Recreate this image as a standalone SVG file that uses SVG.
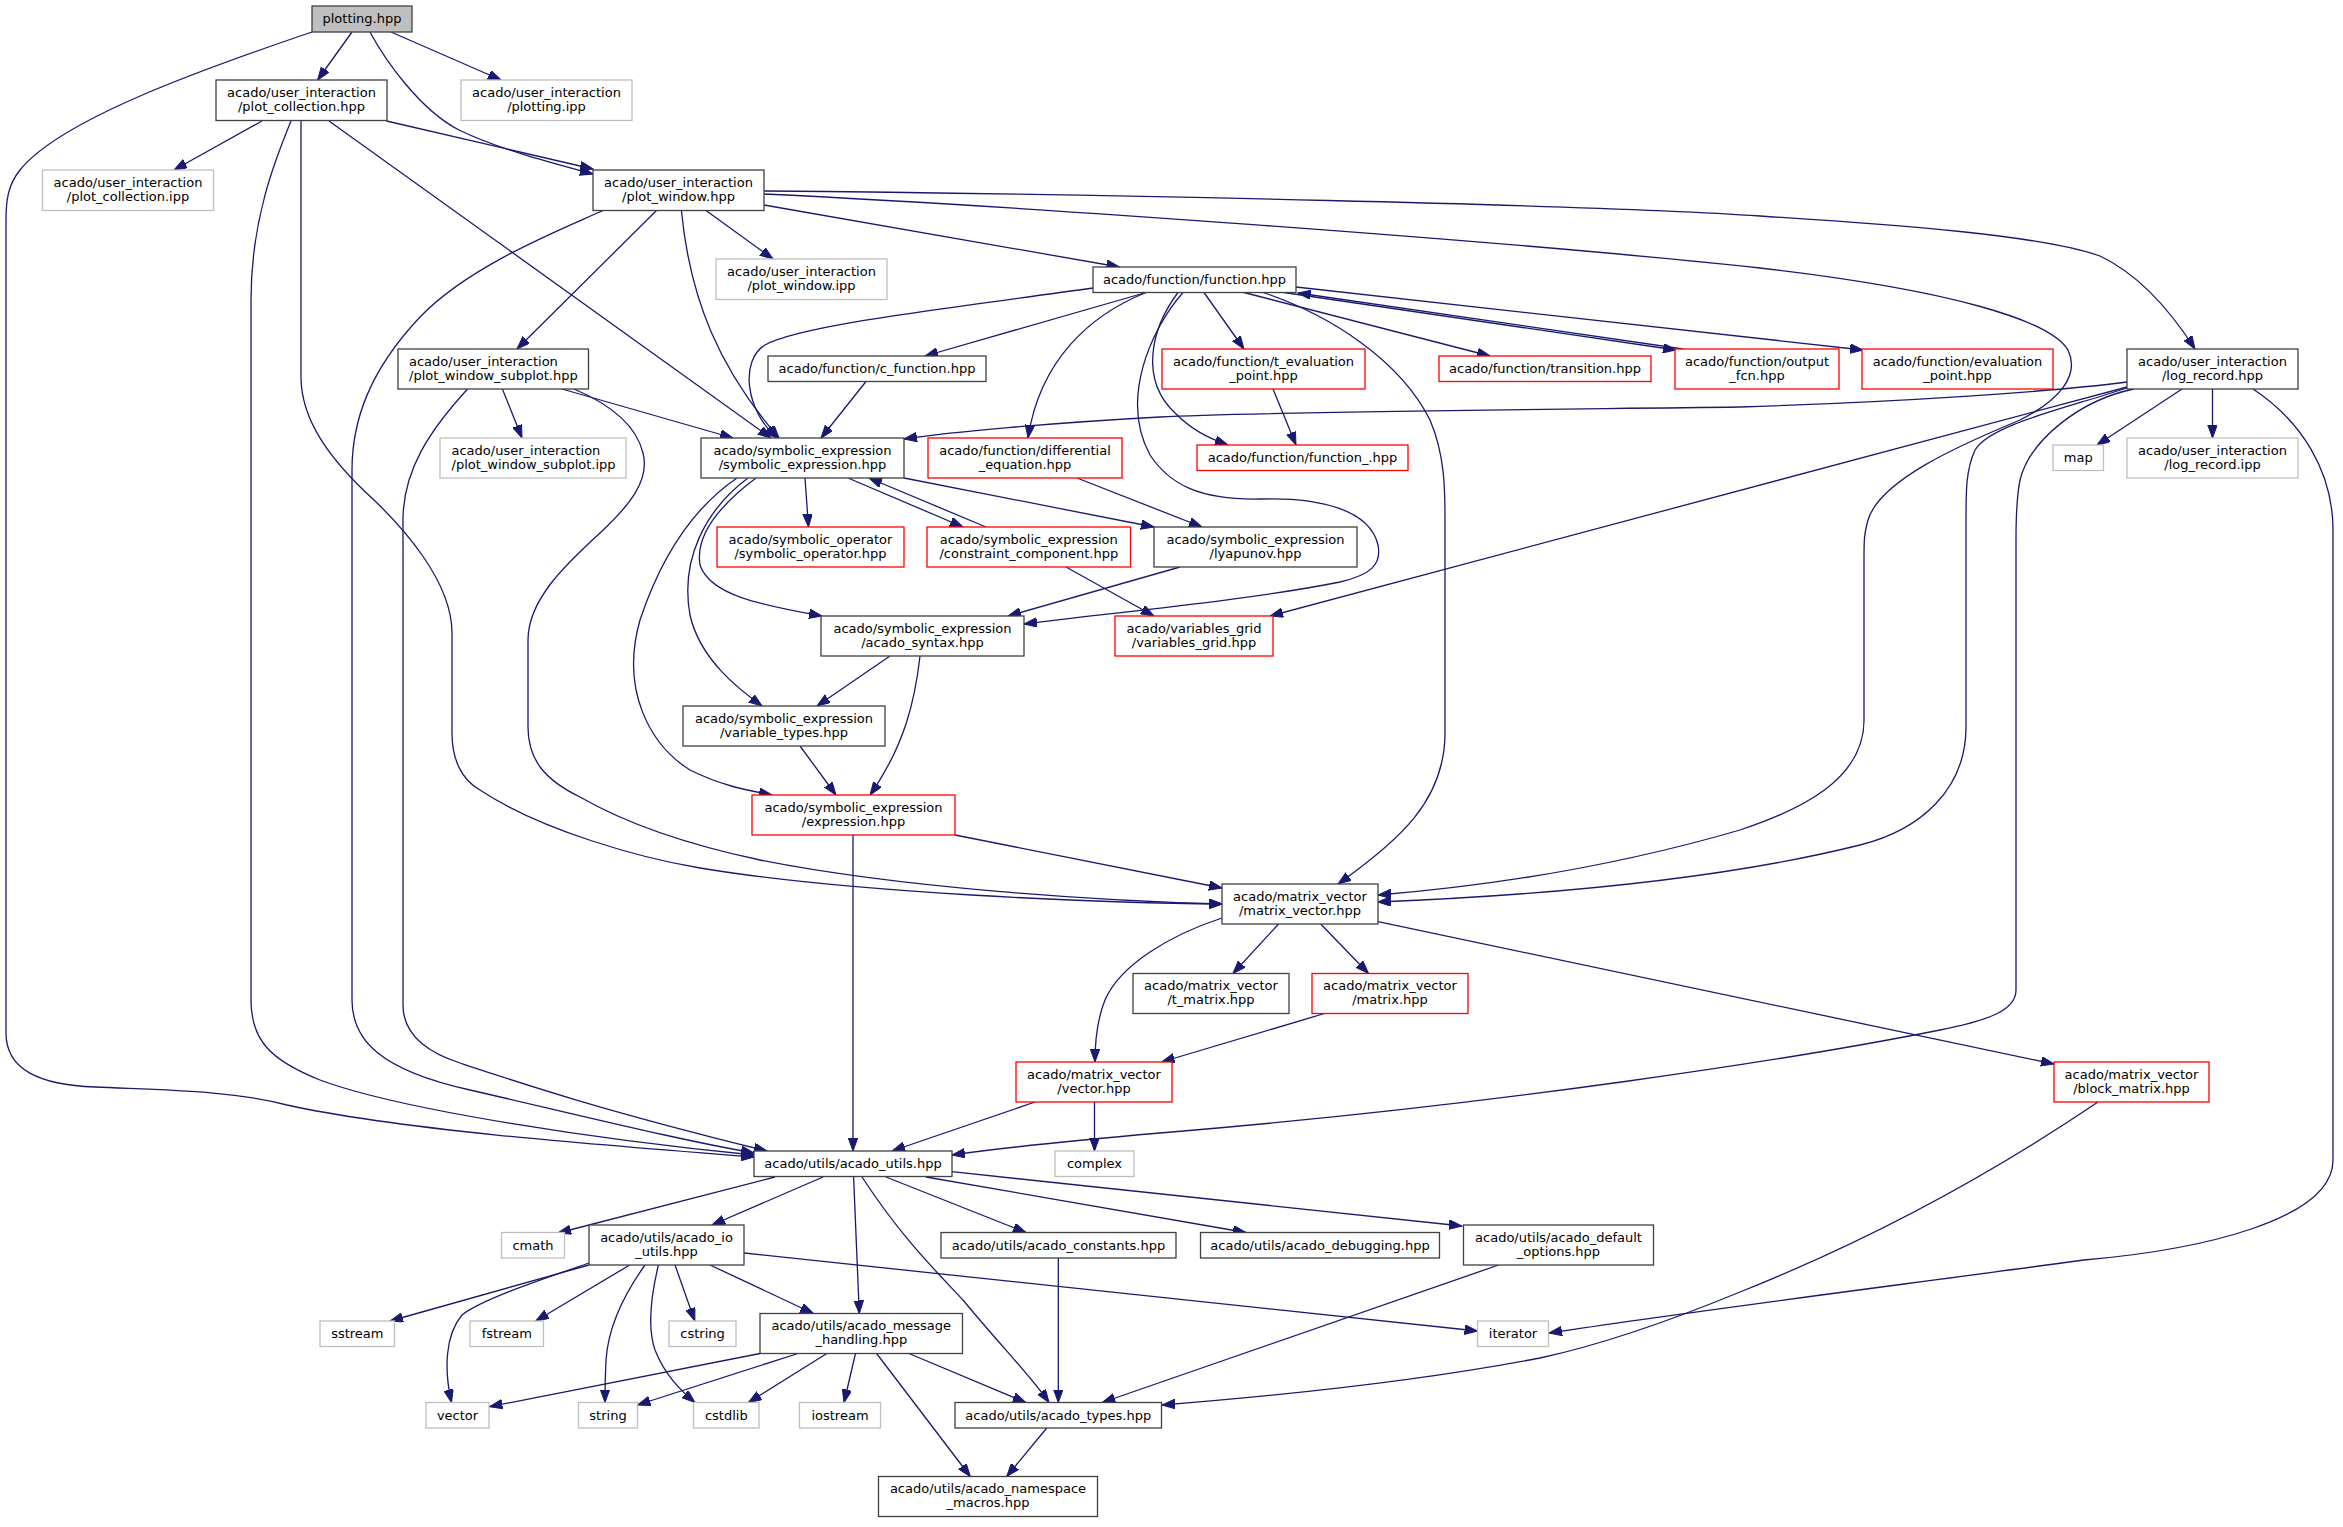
<svg xmlns="http://www.w3.org/2000/svg" width="2343" height="1527" viewBox="0 0 2343 1527">
<defs>
<style>
.n rect{fill:#fff;stroke:#404040;stroke-width:1.3}
.g rect{stroke:#bfbfbf}
.r rect{stroke:#ff0000}
.root rect{fill:#bfbfbf}
text{font-family:"DejaVu Sans",sans-serif;font-size:13px;fill:#000;text-anchor:middle}
.l text{text-anchor:start}
.e path{fill:none;stroke:#191970;stroke-width:1.3;marker-end:url(#a)}
</style>
<marker id="a" markerWidth="14" markerHeight="10" refX="13" refY="4.75" orient="auto" markerUnits="userSpaceOnUse"><path d="M0,0 L13,4.75 L0,9.5 z" fill="#191970" stroke="#191970" stroke-width="1"/></marker>
</defs>
<rect width="2343" height="1527" fill="#fff"/>
<g id="edges" class="e">
<path d="M352,32 L317.6,80"/>
<path d="M370,32 C385,60 420,110 459,130 C500,150 560,165 593,174"/>
<path d="M391,32 L501,80"/>
<path d="M312,32 C200,70 60,120 20,170 C8,185 6,200 6,220 L6,1033 C6,1070 40,1085 95,1087 C160,1090 230,1090 287,1105 C400,1130 600,1145 754,1157"/>
<path d="M262,121 L174,170"/>
<path d="M386.5,121 L593,169"/>
<path d="M329,121 L771,438"/>
<path d="M291,121 C275,160 251,220 251,300 L251,1000 C251,1040 270,1060 320,1080 C400,1110 600,1140 754,1155"/>
<path d="M301,121 L301,377 C301,420 330,460 374,500 C400,525 452,580 452,633 L452,733 C452,760 462,780 480,790 C540,830 640,858 700,868 C850,893 1100,903 1222,904"/>
<path d="M574,389 C600,400 635,420 643,453 C650,480 630,505 600,533 C565,565 528,600 528,640 L528,727 C528,760 545,780 580,797 C620,820 680,843 760,860 C900,888 1100,901 1222,904"/>
<path d="M562,389 L733,438"/>
<path d="M467.6,389 C430,430 403,470 403,520 L403,1005 C403,1030 420,1050 460,1063 C520,1083 600,1110 767,1151"/>
<path d="M502.4,389 L522,438"/>
<path d="M656.5,210.5 L517,349"/>
<path d="M681.4,210.5 C690,300 720,370 779,438"/>
<path d="M706,210.5 L773,259"/>
<path d="M764,205 L1119.5,267"/>
<path d="M603,210.5 C560,230 470,265 420,317 C370,370 352,420 352,470 L352,1000 C352,1040 380,1070 470,1090 C600,1120 680,1140 754,1153"/>
<path d="M764,191 C1100,194 1600,205 1760,216 C1900,225 2040,235 2100,256 C2140,275 2170,310 2195,349"/>
<path d="M764,194 C1000,205 1500,240 1760,268 C1950,290 2050,320 2068,350 C2080,375 2060,400 2020,420 C1960,445 1880,480 1868,520 C1864,535 1864,540 1864,560 L1864,720 C1864,780 1800,810 1740,830 C1620,865 1500,885 1378,895"/>
<path d="M1093,288 C950,308 800,325 765,345 C740,360 745,410 777,438"/>
<path d="M1146,292.5 L925,356"/>
<path d="M1146,292.5 C1090,315 1040,360 1028,438"/>
<path d="M1204,292.5 L1244,349"/>
<path d="M1178,292.5 C1150,330 1140,380 1175,413 C1190,428 1205,437 1228,445"/>
<path d="M1183,292.5 C1150,330 1120,400 1150,455 C1170,485 1200,500 1260,499 C1320,497 1370,510 1378,545 C1382,565 1370,575 1340,582 C1250,600 1120,612 1024,624"/>
<path d="M1244,292.5 L1490,356"/>
<path d="M1284,292.5 L1676,350"/>
<path d="M1683,349 L1298,293"/>
<path d="M1296,287 L1863,350"/>
<path d="M1263,292.5 C1330,315 1400,360 1430,420 C1445,455 1445,490 1445,520 L1445,733 C1445,800 1400,840 1338,884"/>
<path d="M805,478 L808.5,527"/>
<path d="M848,478 L963,527"/>
<path d="M986,527 L869,478"/>
<path d="M904,478 L1154,527"/>
<path d="M756,478 C720,505 695,535 700,565 C710,595 760,605 822,616"/>
<path d="M748,478 C705,510 680,560 690,615 C700,660 740,690 762,706"/>
<path d="M737,478 C690,510 660,560 640,620 C620,690 650,745 690,770 C720,785 745,790 772,795"/>
<path d="M866,381.5 L821,438"/>
<path d="M1077,478 L1202,527"/>
<path d="M1066,567 L1154,616"/>
<path d="M1180,567 L1008,616"/>
<path d="M890,656 L817,706"/>
<path d="M920,656 C915,700 905,745 870,795"/>
<path d="M800,746 L836,795"/>
<path d="M853,835 L853,1151"/>
<path d="M955,835 L1222,888"/>
<path d="M1273,389 L1296,445"/>
<path d="M2182,389 L2097,445"/>
<path d="M2212.5,389 L2212.5,438"/>
<path d="M2127,382 C2050,392 1900,402 1740,407 C1500,410 1250,412 1160,417 C1050,423 950,432 904,439"/>
<path d="M2127,387 L1270,616"/>
<path d="M2127,388 C2060,410 1990,425 1975,450 C1966,470 1966,490 1966,520 L1966,727 C1966,790 1920,830 1860,845 C1720,880 1550,895 1378,902"/>
<path d="M2134,389 C2080,400 2030,440 2020,480 C2016,500 2016,520 2016,540 L2016,990 C2016,1010 1990,1020 1940,1030 C1800,1058 1500,1105 1160,1133 C1080,1140 1000,1148 952,1155"/>
<path d="M2253,389 C2300,420 2333,470 2333,530 L2333,1160 C2333,1220 2200,1250 2084,1260 C1900,1285 1700,1310 1549,1333"/>
<path d="M1278.6,924 L1233,973.5"/>
<path d="M1320.7,924 L1368.5,973.5"/>
<path d="M1222,918 C1170,935 1120,965 1105,1000 C1097,1020 1095,1040 1095,1062"/>
<path d="M1378,921.7 L2054,1064"/>
<path d="M1324.5,1013.5 L1161.6,1062"/>
<path d="M1035,1102 L892,1151"/>
<path d="M1094.5,1102 L1094.5,1151"/>
<path d="M2098,1102 C1990,1175 1870,1240 1740,1292 C1660,1325 1600,1345 1540,1358 C1400,1385 1250,1398 1162,1405"/>
<path d="M775,1177 L558,1233"/>
<path d="M823,1177 L712,1225"/>
<path d="M853.6,1177 L859.3,1313.5"/>
<path d="M862,1177 C900,1235 930,1265 963,1300 C1000,1345 1030,1375 1049,1402.5"/>
<path d="M886,1177 L1026,1232.5"/>
<path d="M926,1177 L1246,1232.5"/>
<path d="M952,1171.7 L1462,1226"/>
<path d="M589,1265 L390,1321"/>
<path d="M589,1263 C540,1280 480,1300 462,1315 C445,1335 444,1370 451.5,1402.5"/>
<path d="M629.7,1265 L535.7,1321"/>
<path d="M645,1265 C620,1300 608,1330 606,1360 C605,1380 605,1390 605,1402.5"/>
<path d="M658.4,1265 C650,1300 648,1330 655,1350 C665,1375 680,1390 695,1402.5"/>
<path d="M675,1265 L694.8,1321"/>
<path d="M710,1265 L813.4,1313.5"/>
<path d="M744,1253 L1477.6,1331"/>
<path d="M760,1353.5 L489.5,1406.7"/>
<path d="M798,1353.5 L637.4,1405"/>
<path d="M826.8,1353.5 L748.4,1402.5"/>
<path d="M855.5,1353.5 L844,1402.5"/>
<path d="M909,1353.5 L1025.8,1402.5"/>
<path d="M876.6,1353.5 L970.3,1476.5"/>
<path d="M1058.3,1258 L1058.3,1402.5"/>
<path d="M1498.6,1265 L1102.3,1402.5"/>
<path d="M1046.8,1428 L1006.7,1476.5"/>
</g>
<g id="n1" class="n root"><rect x="312" y="6" width="100" height="26"/><text x="362" y="23">plotting.hpp</text></g>
<g id="n2" class="n"><rect x="216" y="80" width="171" height="40.5"/><text x="301.5" y="96.5">acado/user_interaction</text><text x="301.5" y="110.8">/plot_collection.hpp</text></g>
<g id="n3" class="n g"><rect x="461" y="80" width="171" height="40.5"/><text x="546.5" y="96.5">acado/user_interaction</text><text x="546.5" y="110.8">/plotting.ipp</text></g>
<g id="n4" class="n g"><rect x="42.5" y="170" width="171" height="40.5"/><text x="128" y="186.5">acado/user_interaction</text><text x="128" y="200.8">/plot_collection.ipp</text></g>
<g id="n5" class="n"><rect x="593" y="170" width="171" height="40.5"/><text x="678.5" y="186.5">acado/user_interaction</text><text x="678.5" y="200.8">/plot_window.hpp</text></g>
<g id="n6" class="n l"><rect x="398" y="349" width="190.5" height="40"/><text x="409" y="365.5">acado/user_interaction</text><text x="409" y="379.8">/plot_window_subplot.hpp</text></g>
<g id="n7" class="n g l"><rect x="440" y="438" width="186" height="40"/><text x="451.5" y="454.5">acado/user_interaction</text><text x="451.5" y="468.8">/plot_window_subplot.ipp</text></g>
<g id="n8" class="n g"><rect x="716" y="259" width="171" height="40.5"/><text x="801.5" y="275.5">acado/user_interaction</text><text x="801.5" y="289.8">/plot_window.ipp</text></g>
<g id="n9" class="n"><rect x="1093" y="267" width="203" height="25.5"/><text x="1194.5" y="284">acado/function/function.hpp</text></g>
<g id="n10" class="n"><rect x="768" y="356" width="218" height="25.5"/><text x="877" y="373">acado/function/c_function.hpp</text></g>
<g id="n11" class="n"><rect x="701" y="438" width="203" height="40"/><text x="802.5" y="454.5">acado/symbolic_expression</text><text x="802.5" y="468.8">/symbolic_expression.hpp</text></g>
<g id="n12" class="n r"><rect x="928" y="438" width="194" height="40"/><text x="1025" y="454.5">acado/function/differential</text><text x="1025" y="468.8">_equation.hpp</text></g>
<g id="n13" class="n r"><rect x="1162" y="349" width="203" height="40"/><text x="1263.5" y="365.5">acado/function/t_evaluation</text><text x="1263.5" y="379.8">_point.hpp</text></g>
<g id="n14" class="n r"><rect x="1439" y="356" width="212" height="25.5"/><text x="1545" y="373">acado/function/transition.hpp</text></g>
<g id="n15" class="n r"><rect x="1675" y="349" width="164" height="40"/><text x="1757" y="365.5">acado/function/output</text><text x="1757" y="379.8">_fcn.hpp</text></g>
<g id="n16" class="n r"><rect x="1197" y="445" width="211" height="25.5"/><text x="1302.5" y="462">acado/function/function_.hpp</text></g>
<g id="n17" class="n r"><rect x="1862" y="349" width="191" height="40"/><text x="1957.5" y="365.5">acado/function/evaluation</text><text x="1957.5" y="379.8">_point.hpp</text></g>
<g id="n18" class="n"><rect x="2127" y="349" width="171" height="40"/><text x="2212.5" y="365.5">acado/user_interaction</text><text x="2212.5" y="379.8">/log_record.hpp</text></g>
<g id="n19" class="n g"><rect x="2053" y="445" width="50.5" height="25.5"/><text x="2078.3" y="462">map</text></g>
<g id="n20" class="n g"><rect x="2127" y="438" width="171" height="40"/><text x="2212.5" y="454.5">acado/user_interaction</text><text x="2212.5" y="468.8">/log_record.ipp</text></g>
<g id="n21" class="n r"><rect x="717" y="527" width="187" height="40"/><text x="810.5" y="543.5">acado/symbolic_operator</text><text x="810.5" y="557.8">/symbolic_operator.hpp</text></g>
<g id="n22" class="n r"><rect x="927" y="527" width="203.5" height="40"/><text x="1028.8" y="543.5">acado/symbolic_expression</text><text x="1028.8" y="557.8">/constraint_component.hpp</text></g>
<g id="n23" class="n"><rect x="1154" y="527" width="203" height="40"/><text x="1255.5" y="543.5">acado/symbolic_expression</text><text x="1255.5" y="557.8">/lyapunov.hpp</text></g>
<g id="n24" class="n"><rect x="821" y="616" width="203" height="40"/><text x="922.5" y="632.5">acado/symbolic_expression</text><text x="922.5" y="646.8">/acado_syntax.hpp</text></g>
<g id="n25" class="n r"><rect x="1115" y="616" width="158" height="40"/><text x="1194" y="632.5">acado/variables_grid</text><text x="1194" y="646.8">/variables_grid.hpp</text></g>
<g id="n26" class="n"><rect x="683" y="706" width="202" height="40"/><text x="784" y="722.5">acado/symbolic_expression</text><text x="784" y="736.8">/variable_types.hpp</text></g>
<g id="n27" class="n r"><rect x="752" y="795" width="203" height="40"/><text x="853.5" y="811.5">acado/symbolic_expression</text><text x="853.5" y="825.8">/expression.hpp</text></g>
<g id="n28" class="n"><rect x="1222" y="884" width="156" height="40"/><text x="1300" y="900.5">acado/matrix_vector</text><text x="1300" y="914.8">/matrix_vector.hpp</text></g>
<g id="n29" class="n"><rect x="1133" y="973.5" width="156" height="40"/><text x="1211" y="990">acado/matrix_vector</text><text x="1211" y="1004.3">/t_matrix.hpp</text></g>
<g id="n30" class="n r"><rect x="1312" y="973.5" width="156" height="40"/><text x="1390" y="990">acado/matrix_vector</text><text x="1390" y="1004.3">/matrix.hpp</text></g>
<g id="n31" class="n r"><rect x="1016" y="1062" width="156" height="40"/><text x="1094" y="1078.5">acado/matrix_vector</text><text x="1094" y="1092.8">/vector.hpp</text></g>
<g id="n32" class="n g"><rect x="1055" y="1151" width="79" height="25.5"/><text x="1094.5" y="1168">complex</text></g>
<g id="n33" class="n"><rect x="754" y="1151" width="198" height="25.5"/><text x="853" y="1168">acado/utils/acado_utils.hpp</text></g>
<g id="n34" class="n"><rect x="589" y="1225" width="155" height="40"/><text x="666.5" y="1241.5">acado/utils/acado_io</text><text x="666.5" y="1255.8">_utils.hpp</text></g>
<g id="n35" class="n g"><rect x="669" y="1321" width="67" height="25.5"/><text x="702.5" y="1338">cstring</text></g>
<g id="n36" class="n"><rect x="760" y="1313.5" width="202.5" height="40"/><text x="861.3" y="1330">acado/utils/acado_message</text><text x="861.3" y="1344.3">_handling.hpp</text></g>
<g id="n37" class="n"><rect x="941" y="1232.5" width="235" height="25.5"/><text x="1058.5" y="1249.5">acado/utils/acado_constants.hpp</text></g>
<g id="n38" class="n g"><rect x="578.5" y="1402.5" width="59" height="25.5"/><text x="608" y="1419.5">string</text></g>
<g id="n39" class="n g"><rect x="693.5" y="1402.5" width="65.5" height="25.5"/><text x="726.3" y="1419.5">cstdlib</text></g>
<g id="n40" class="n g"><rect x="799.5" y="1402.5" width="81" height="25.5"/><text x="840" y="1419.5">iostream</text></g>
<g id="n41" class="n"><rect x="955" y="1402.5" width="206.5" height="25.5"/><text x="1058.3" y="1419.5">acado/utils/acado_types.hpp</text></g>
<g id="n42" class="n"><rect x="878.5" y="1476.5" width="219" height="40"/><text x="988" y="1493">acado/utils/acado_namespace</text><text x="988" y="1507.3">_macros.hpp</text></g>
<g id="n43" class="n g"><rect x="501.5" y="1232.5" width="63" height="25.5"/><text x="533" y="1249.5">cmath</text></g>
<g id="n44" class="n g"><rect x="320" y="1321" width="74.5" height="25.5"/><text x="357.3" y="1338">sstream</text></g>
<g id="n45" class="n g"><rect x="470" y="1321" width="73.5" height="25.5"/><text x="506.8" y="1338">fstream</text></g>
<g id="n46" class="n g"><rect x="426" y="1402.5" width="63" height="25.5"/><text x="457.5" y="1419.5">vector</text></g>
<g id="n47" class="n"><rect x="1200.5" y="1232.5" width="239" height="25.5"/><text x="1320" y="1249.5">acado/utils/acado_debugging.hpp</text></g>
<g id="n48" class="n"><rect x="1463.5" y="1225" width="190" height="40"/><text x="1558.5" y="1241.5">acado/utils/acado_default</text><text x="1558.5" y="1255.8">_options.hpp</text></g>
<g id="n49" class="n g"><rect x="1477.5" y="1321" width="71" height="25.5"/><text x="1513" y="1338">iterator</text></g>
<g id="n50" class="n r"><rect x="2054" y="1062" width="155" height="40"/><text x="2131.5" y="1078.5">acado/matrix_vector</text><text x="2131.5" y="1092.8">/block_matrix.hpp</text></g>
</svg>
